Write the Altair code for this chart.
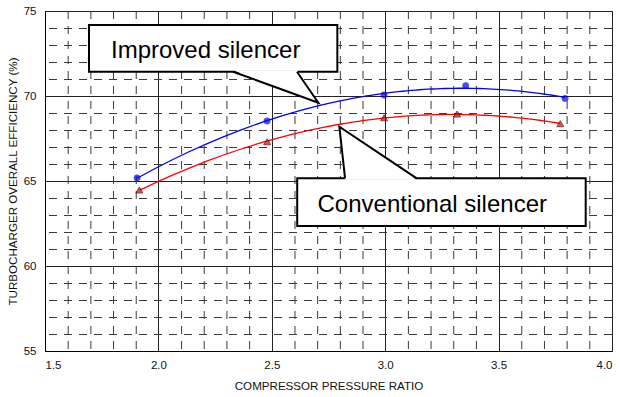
import altair as alt
import pandas as pd

# Measured efficiency points
improved_x = [1.906, 2.479, 2.995, 3.355, 3.793]
improved_y = [65.18, 68.53, 70.06, 70.61, 69.86]
conventional_x = [1.916, 2.480, 2.995, 3.317, 3.772]
conventional_y = [64.47, 67.31, 68.72, 68.94, 68.37]

series_names = ["Improved silencer", "Conventional silencer"]
series_colors = ["#0000ff", "#ff0000"]

x_major = [1.5, 2.0, 2.5, 3.0, 3.5, 4.0]
y_major = [55, 60, 65, 70, 75]
x_minor = [round(1.5 + 0.1 * i, 1) for i in range(1, 25) if i % 5 != 0]
y_minor = [55 + i for i in range(1, 20) if i % 5 != 0]

# Callout annotations (data units): box corners, pointer base and tip, label anchor
callout_names = ["Improved silencer", "Conventional silencer"]
box_x1 = [1.694, 2.612]
box_x2 = [2.789, 3.884]
box_top = [74.176, 65.159]
box_bottom = [71.429, 62.353]
ptr_edge_y = [71.429, 65.159]
ptr_inset = [0.09, -0.09]
ptr_base_left = [2.329, 2.823]
ptr_base_right = [2.611, 3.139]
ptr_tip_x = [2.705, 2.798]
ptr_tip_y = [69.606, 68.194]
label_x = [1.791, 2.7015]
label_y = [72.253, 63.194]

pts = pd.DataFrame(
    {
        "series": [series_names[0]] * len(improved_x) + [series_names[1]] * len(conventional_x),
        "x": improved_x + conventional_x,
        "y": improved_y + conventional_y,
    }
)

xs = alt.Scale(domain=[1.5, 4.0], nice=False, zero=False)
ys = alt.Scale(domain=[55, 75], nice=False, zero=False)
color = alt.Color(
    "series:N", scale=alt.Scale(domain=series_names, range=series_colors), legend=None
)

x_axis = alt.Axis(
    values=x_major, format=".1f", title="COMPRESSOR PRESSURE RATIO",
    tickSize=0, labelPadding=8, titlePadding=10,
)
y_axis = alt.Axis(
    values=y_major, format="d", title="TURBOCHARGER OVERALL EFFICIENCY (%)",
    tickSize=0, labelPadding=9, titlePadding=5,
)

minor_v = (
    alt.Chart(pd.DataFrame({"x": x_minor}))
    .mark_rule(color="#3a3a3a", strokeWidth=1, strokeDash=[8, 7], xOffset=0.5)
    .encode(x=alt.X("x:Q", scale=xs, axis=x_axis))
)
minor_h = (
    alt.Chart(pd.DataFrame({"y": y_minor}))
    .mark_rule(color="#3a3a3a", strokeWidth=1, strokeDash=[8, 7], yOffset=0.5)
    .encode(y=alt.Y("y:Q", scale=ys, axis=y_axis))
)

curves = (
    alt.Chart(pts)
    .transform_regression("x", "y", method="poly", order=2, groupby=["series"])
    .mark_line(strokeWidth=1.3)
    .encode(x=alt.X("x:Q", scale=xs), y=alt.Y("y:Q", scale=ys), color=color)
)

dots = (
    alt.Chart(pts)
    .transform_filter(alt.datum.series == series_names[0])
    .mark_point(filled=True, shape="circle", size=40, color="#0000ff",
                stroke="#00008b", strokeWidth=0.6)
    .encode(x=alt.X("x:Q", scale=xs), y=alt.Y("y:Q", scale=ys))
)
tris = (
    alt.Chart(pts)
    .transform_filter(alt.datum.series == series_names[1])
    .mark_point(filled=True, shape="triangle-up", size=48, color="#ee0000",
                stroke="#330000", strokeWidth=1)
    .encode(x=alt.X("x:Q", scale=xs), y=alt.Y("y:Q", scale=ys))
)

boxes_df = pd.DataFrame(
    {"name": callout_names, "x1": box_x1, "x2": box_x2, "top": box_top, "bottom": box_bottom}
)
boxes = (
    alt.Chart(boxes_df)
    .mark_rect(fill="white", stroke="black", strokeWidth=2)
    .encode(
        x=alt.X("x1:Q", scale=xs), x2="x2:Q",
        y=alt.Y("top:Q", scale=ys), y2="bottom:Q",
    )
)

fill_rows = []
edge_rows = []
for i, name in enumerate(callout_names):
    fill_rows.append({"name": name, "py": ptr_edge_y[i] + ptr_inset[i],
                      "a": ptr_base_left[i], "b": ptr_base_right[i]})
    fill_rows.append({"name": name, "py": ptr_tip_y[i],
                      "a": ptr_tip_x[i], "b": ptr_tip_x[i]})
    edge_rows.append({"name": name, "o": 0, "px": ptr_base_left[i], "py": ptr_edge_y[i]})
    edge_rows.append({"name": name, "o": 1, "px": ptr_tip_x[i], "py": ptr_tip_y[i]})
    edge_rows.append({"name": name, "o": 2, "px": ptr_base_right[i], "py": ptr_edge_y[i]})

pointer_fill = (
    alt.Chart(pd.DataFrame(fill_rows))
    .mark_area(orient="horizontal", color="white", opacity=1)
    .encode(
        y=alt.Y("py:Q", scale=ys), x=alt.X("a:Q", scale=xs), x2="b:Q",
        detail="name:N",
    )
)
pointer_edges = (
    alt.Chart(pd.DataFrame(edge_rows))
    .mark_line(color="black", strokeWidth=2, strokeJoin="miter")
    .encode(
        x=alt.X("px:Q", scale=xs), y=alt.Y("py:Q", scale=ys),
        order="o:Q", detail="name:N",
    )
)

labels = (
    alt.Chart(pd.DataFrame({"name": callout_names, "lx": label_x, "ly": label_y}))
    .mark_text(align="left", baseline="alphabetic", fontSize=24,
               font="Liberation Sans", color="black")
    .encode(x=alt.X("lx:Q", scale=xs), y=alt.Y("ly:Q", scale=ys), text="name:N")
)

chart = (
    alt.layer(minor_v, minor_h, curves, dots, tris, boxes, pointer_fill, pointer_edges, labels)
    .properties(
        width=567,
        height=340,
        autosize=alt.AutoSizeParams(type="none"),
        padding={"left": 45, "top": 11, "right": 8, "bottom": 46},
        background="white",
    )
    .configure_view(stroke="#333333", strokeWidth=1)
    .configure_axis(
        grid=True,
        gridColor="#222222",
        gridWidth=1,
        gridOpacity=1,
        domainColor="black",
        domainWidth=1,
        labelFont="Liberation Sans",
        labelFontSize=11.5,
        labelColor="#111111",
        titleFont="Liberation Sans",
        titleFontSize=11.6,
        titleFontWeight="normal",
        titleColor="#111111",
    )
)

chart.save("out.html", embed_options={"renderer": "svg", "actions": False})
